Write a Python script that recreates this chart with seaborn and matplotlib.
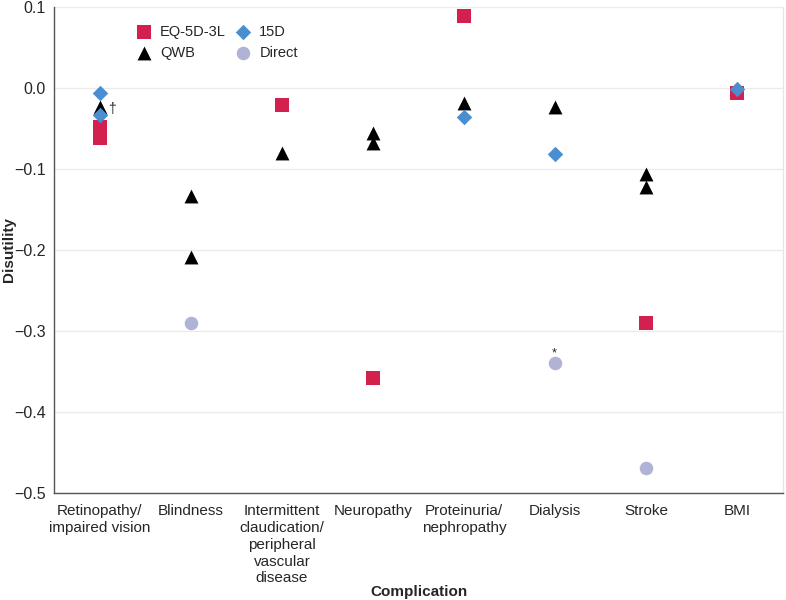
import matplotlib
matplotlib.use("Agg")
import matplotlib.pyplot as plt
import pandas as pd
import seaborn as sns

# Categories on the x axis (order matters) and their wrapped tick labels
categories = ["Retinopathy", "Blindness", "Intermittent", "Neuropathy",
              "Proteinuria", "Dialysis", "Stroke", "BMI"]
tick_labels = ["Retinopathy/\nimpaired vision", "Blindness",
               "Intermittent\nclaudication/\nperipheral\nvascular\ndisease",
               "Neuropathy", "Proteinuria/\nnephropathy", "Dialysis",
               "Stroke", "BMI"]

# Disutility values, one list pair per instrument
eq5d_cat = ["Retinopathy", "Retinopathy", "Intermittent", "Neuropathy",
            "Proteinuria", "Stroke", "BMI"]
eq5d_val = [-0.048, -0.062, -0.021, -0.358, 0.089, -0.290, -0.006]

qwb_cat = ["Retinopathy", "Blindness", "Blindness", "Intermittent",
           "Neuropathy", "Neuropathy", "Proteinuria", "Dialysis",
           "Stroke", "Stroke"]
qwb_val = [-0.024, -0.133, -0.209, -0.081, -0.056, -0.068, -0.019,
           -0.024, -0.107, -0.122]

d15_cat = ["Retinopathy", "Retinopathy", "Proteinuria", "Dialysis", "BMI"]
d15_val = [-0.007, -0.034, -0.036, -0.082, -0.002]

direct_cat = ["Blindness", "Dialysis", "Stroke"]
direct_val = [-0.290, -0.340, -0.469]

series = [
    ("EQ-5D-3L", eq5d_cat, eq5d_val, "s", "#D2214F", 88),
    ("QWB", qwb_cat, qwb_val, "^", "#000000", 100),
    ("15D", d15_cat, d15_val, "D", "#4A8ECF", 62),
    ("Direct", direct_cat, direct_val, "o", "#B0B3D6", 95),
]

frames = []
for name, cats, vals, *_ in series:
    frames.append(pd.DataFrame({"complication": cats, "disutility": vals,
                                "measure": name}))
df = pd.concat(frames, ignore_index=True)
df["pos"] = pd.Categorical(df["complication"], categories=categories).codes

sns.set_style("white")
plt.rcParams["font.family"] = ["Liberation Sans", "DejaVu Sans"]

fig, ax = plt.subplots(figsize=(7.86, 6.0), dpi=100)
fig.subplots_adjust(left=0.069, right=0.996, top=0.989, bottom=0.178)

for name, cats, vals, marker, color, size in series:
    sub = df[df["measure"] == name]
    sns.scatterplot(data=sub, x="pos", y="disutility", ax=ax, marker=marker,
                    color=color, s=size, linewidth=0, label=name, zorder=3)

# footnote marks next to two points
ax.annotate("\u2020", (0, -0.024), xytext=(6, -1), textcoords="offset points",
            fontsize=10, va="center", ha="left")
ax.annotate("*", (5, -0.340), xytext=(-1, 3), textcoords="offset points",
            fontsize=9, va="bottom", ha="center")

ax.set_xlim(-0.5, len(categories) - 0.5)
ax.set_ylim(-0.5, 0.1)
ax.set_yticks([0.1, 0.0, -0.1, -0.2, -0.3, -0.4, -0.5])
ax.set_yticklabels(["0.1", "0.0", "\u22120.1", "\u22120.2", "\u22120.3",
                    "\u22120.4", "\u22120.5"], fontsize=11.5)
ax.set_xticks(range(len(categories)))
ax.set_xticklabels(tick_labels, fontsize=11, linespacing=1.25)
ax.set_xticks([i + 0.5 for i in range(len(categories))], minor=True)
ax.tick_params(axis="x", which="major", length=0, pad=8)
ax.tick_params(axis="x", which="minor", direction="in", length=4,
               color="#555555", width=0.8)
ax.tick_params(axis="y", direction="in", length=4, color="#555555",
               width=0.8, pad=6)

ax.grid(axis="y", color="#EBEBEB", linewidth=1.0)
ax.set_axisbelow(True)
for side in ["left", "bottom"]:
    ax.spines[side].set_color("#555555")
    ax.spines[side].set_linewidth(1.0)
ax.spines["top"].set_visible(False)
ax.spines["right"].set_color("#E6E6E6")
ax.spines["right"].set_linewidth(1.0)

ax.set_xlabel("Complication", fontsize=11, fontweight="bold")
ax.set_ylabel("Disutility", fontsize=11, fontweight="bold")
ax.xaxis.set_label_coords(0.5, -0.2036)
ax.xaxis.label.set_va("center")
ax.yaxis.set_label_coords(-0.062, 0.5)
ax.yaxis.label.set_va("center")

ax.legend(ncol=2, loc="upper left", bbox_to_anchor=(0.095, 0.975),
          frameon=False, fontsize=10.5, handletextpad=0.1, columnspacing=0.2,
          labelspacing=0.5, borderaxespad=0)

plt.savefig("out.png", dpi=100)
